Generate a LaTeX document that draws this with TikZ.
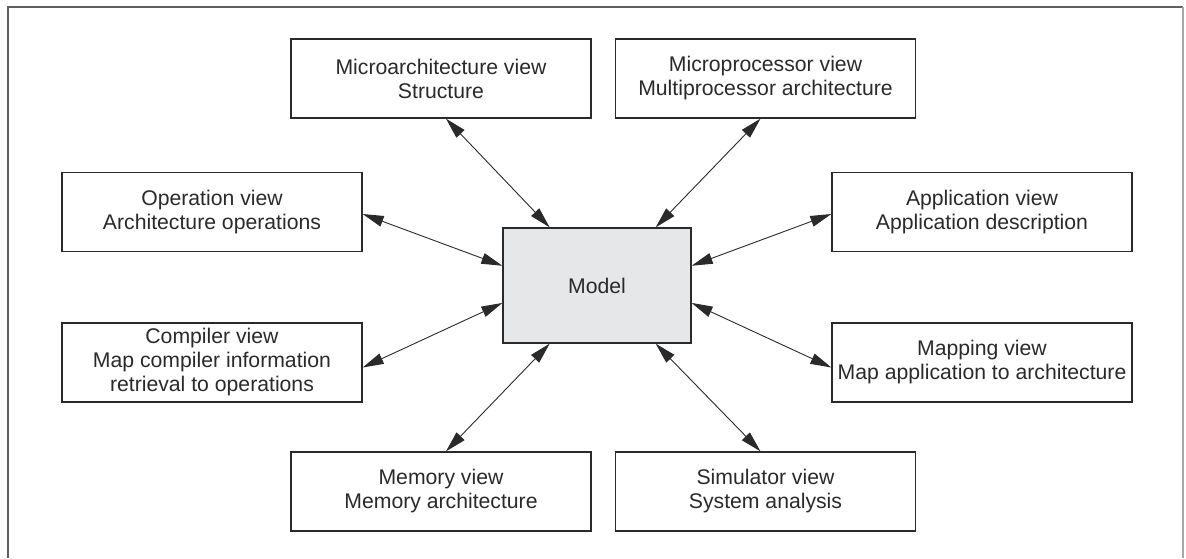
\documentclass[tikz,border=0pt]{standalone}
\usepackage{fontspec}
\setmainfont{Liberation Sans}
\usetikzlibrary{arrows.meta,calc}
\definecolor{modelgray}{HTML}{E6E7E8}
\definecolor{framedark}{HTML}{606060}
\definecolor{framelight}{HTML}{A8A8A8}
\definecolor{linecol}{HTML}{2A2A2A}
\tikzset{
  viewbox/.style={draw=linecol, line width=1.3pt, fill=white, rectangle, inner sep=0pt,
    minimum width=300pt, minimum height=79pt, align=center,
    font=\fontsize{21.2}{24}\selectfont, text=linecol},
  modelbox/.style={draw=linecol, line width=1.3pt, fill=modelgray, rectangle, inner sep=0pt,
    minimum width=188pt, minimum height=115pt, font=\fontsize{21.2}{24}\selectfont, text=linecol},
  link/.style={draw=linecol, line width=0.9pt, {Triangle[length=21pt,width=11pt]}-{Triangle[length=21pt,width=11pt]}},
}
\begin{document}
\begin{tikzpicture}[x=1pt,y=-1pt]
\useasboundingbox (0,0) rectangle (1186,558);
\draw[framedark, line width=2pt] (8,558) -- (8,7) -- (1183,7);
\draw[framelight, line width=1.5pt] (1183,7) -- (1183,558);

\node[modelbox] (model) at (597,285.5) {Model};

\node[viewbox] (micro) at (441,78.5) {Microarchitecture view\\Structure};
\node[viewbox] (mproc) at (765.5,78.5) {Microprocessor view\\Multiprocessor architecture};
\node[viewbox] (oper) at (212,212) {Operation view\\Architecture operations};
\node[viewbox] (appl) at (982,212) {Application view\\Application description};
\node[viewbox] (comp) at (212,362.5) {Compiler view\\Map compiler information\\retrieval to operations};
\node[viewbox] (mapp) at (982,362.5) {Mapping view\\Map application to architecture};
\node[viewbox] (memo) at (441,491.5) {Memory view\\Memory architecture};
\node[viewbox] (simu) at (765.5,491.5) {Simulator view\\System analysis};

\coordinate (mT1) at ($(model.north west)!0.25!(model.north east)$);
\coordinate (mT2) at ($(model.north west)!0.81!(model.north east)$);
\coordinate (mB1) at ($(model.south west)!0.25!(model.south east)$);
\coordinate (mB2) at ($(model.south west)!0.81!(model.south east)$);
\coordinate (mL1) at ($(model.north west)!0.33!(model.south west)$);
\coordinate (mL2) at ($(model.north west)!0.65!(model.south west)$);
\coordinate (mR1) at ($(model.north east)!0.33!(model.south east)$);
\coordinate (mR2) at ($(model.north east)!0.65!(model.south east)$);

\draw[link] ([xshift=5pt]micro.south) -- (mT1);
\draw[link] ([xshift=-5pt]mproc.south) -- (mT2);
\draw[link] ([yshift=-2pt]oper.east) -- (mL1);
\draw[link] ([yshift=-2pt]appl.west) -- (mR1);
\draw[link] ([yshift=-5pt]comp.east) -- (mL2);
\draw[link] ([yshift=-5pt]mapp.west) -- (mR2);
\draw[link] ([xshift=5pt]memo.north) -- (mB1);
\draw[link] ([xshift=-5pt]simu.north) -- (mB2);
\end{tikzpicture}
\end{document}
